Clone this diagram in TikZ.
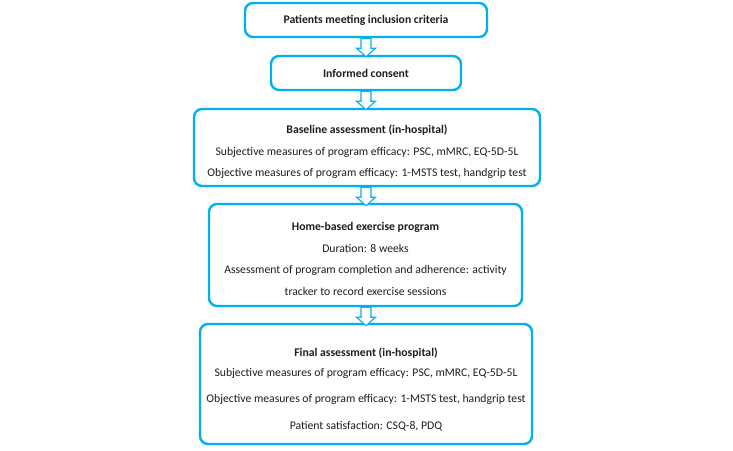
\documentclass[tikz,border=0pt]{standalone}
\usepackage{fontspec}
\setmainfont{Carlito}
\usetikzlibrary{calc}
\definecolor{cyanblue}{RGB}{0,176,240}
\definecolor{txt}{RGB}{30,30,30}
\tikzset{
  box/.style={draw=cyanblue, line width=2.4pt, rounded corners=8pt, fill=white, inner sep=0pt},
  lbl/.style={text=txt, font=\fontsize{11.7}{13}\selectfont, inner sep=0pt, anchor=center},
  ttl/.style={lbl, font=\fontsize{11.7}{13}\selectfont\bfseries},
  blockarrow/.style={draw=cyanblue, line width=1.1pt, fill=white, line join=miter}
}
\newcommand{\hollowarrow}[1]{%
  \draw[blockarrow] ($(#1)+(-5,0)$) -- ++(0,10) -- ++(-4.5,0) -- ++(9.5,8.5) -- ++(9.5,-8.5) -- ++(-4.5,0) -- ++(0,-10) -- cycle;}
\begin{document}
\begin{tikzpicture}[x=1pt,y=-1pt]
\useasboundingbox (0,0) rectangle (733,450);
\fill[white] (0,0) rectangle (733,450);

\node[box, minimum width=242pt, minimum height=34pt] (b1) at (366,20) {};
\node[box, minimum width=190pt, minimum height=34pt] (b2) at (366,73) {};
\node[box, minimum width=346pt, minimum height=77pt] (b3) at (367,147.5) {};
\node[box, minimum width=313pt, minimum height=102pt] (b4) at (365.5,255) {};
\node[box, minimum width=332pt, minimum height=120pt] (b5) at (366,384) {};

\coordinate (a1) at (b1.south -| 366,0);
\coordinate (a2) at (b2.south -| 366,0);
\coordinate (a3) at (b3.south -| 366,0);
\coordinate (a4) at (b4.south -| 366,0);
\hollowarrow{a1}
\hollowarrow{a2}
\hollowarrow{a3}
\hollowarrow{a4}

\node[ttl] (t1) at (366,20) {Patients meeting inclusion criteria};
\node[ttl] (t2) at (366,73) {Informed consent};

\node[ttl] (t3a) at (367,130) {Baseline assessment (in-hospital)};
\node[lbl] (t3b) at (367,152) {Subjective measures of program efficacy: PSC, mMRC, EQ-5D-5L};
\node[lbl] (t3c) at (367,173.5) {Objective measures of program efficacy: 1-MSTS test, handgrip test};

\node[ttl] (t4a) at (365.5,227) {Home-based exercise program};
\node[lbl] (t4b) at (365.5,248) {Duration: 8 weeks};
\node[lbl] (t4c) at (365.5,270) {Assessment of program completion and adherence: activity};
\node[lbl] (t4d) at (365.5,291) {tracker to record exercise sessions};

\node[ttl] (t5a) at (366,353) {Final assessment (in-hospital)};
\node[lbl] (t5b) at (366,373) {Subjective measures of program efficacy: PSC, mMRC, EQ-5D-5L};
\node[lbl] (t5c) at (366,399) {Objective measures of program efficacy: 1-MSTS test, handgrip test};
\node[lbl] (t5d) at (366,426) {Patient satisfaction: CSQ-8, PDQ};
\end{tikzpicture}
\end{document}
